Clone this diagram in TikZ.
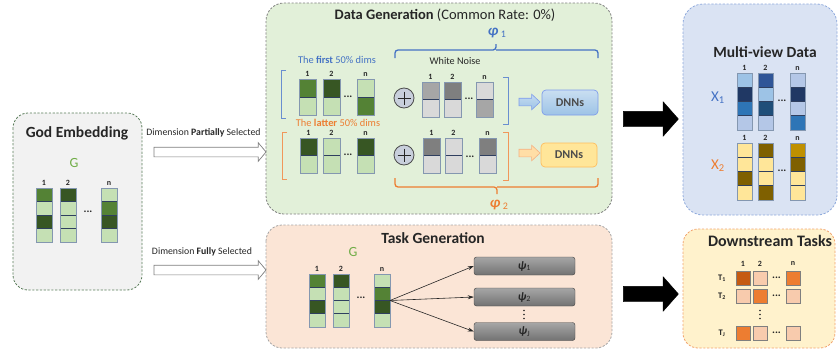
\documentclass[tikz,border=0pt]{standalone}
\usepackage{fontspec}
\setmainfont{Carlito}
\usetikzlibrary{shapes.arrows,arrows.meta,calc}
\definecolor{txt}{HTML}{262626}
\definecolor{gMed}{HTML}{548235}
\definecolor{gDark}{HTML}{375623}
\definecolor{gLight}{HTML}{C5E0B4}
\definecolor{grM}{HTML}{A6A6A6}
\definecolor{grD}{HTML}{7F7F7F}
\definecolor{grL}{HTML}{D9D9D9}
\definecolor{bL}{HTML}{9DC3E6}
\definecolor{bNavy}{HTML}{203864}
\definecolor{bMed}{HTML}{2E75B6}
\definecolor{bPale}{HTML}{B4C7E7}
\definecolor{bDk}{HTML}{2F5597}
\definecolor{bTeal}{HTML}{1F4E79}
\definecolor{yL}{HTML}{FFE699}
\definecolor{yDk}{HTML}{7F6000}
\definecolor{yGold}{HTML}{BF9000}
\definecolor{oDk}{HTML}{C55A11}
\definecolor{oMid}{HTML}{ED7D31}
\definecolor{oPeach}{HTML}{F8CBAD}
\definecolor{accBlue}{HTML}{4472C4}
\definecolor{accOr}{HTML}{ED7D31}
\definecolor{accGreen}{HTML}{70AD47}
\definecolor{cellLine}{HTML}{2F3F5F}
\definecolor{frameLine}{HTML}{8497B0}
\definecolor{godFill}{HTML}{F2F2F2}
\definecolor{dataFill}{HTML}{E2F0D9}
\definecolor{taskFill}{HTML}{FBE5D6}
\definecolor{multiFill}{HTML}{DAE3F3}
\definecolor{downFill}{HTML}{FFF2CC}
\tikzset{
  cell/.style={draw=cellLine, line width=0.6pt, inner sep=0pt, outer sep=0pt},
  frame/.style={draw=frameLine, line width=1pt},
  panel/.style={rounded corners=15pt, dash pattern=on 2.2pt off 1.6pt, line width=0.8pt},
  ptitle/.style={font=\fontsize{15.5}{17}\selectfont\bfseries, text=txt, inner sep=0pt},
  idx/.style={font=\fontsize{8}{9}\selectfont\bfseries, text=txt, inner sep=0pt},
  small/.style={font=\fontsize{9.8}{11}\selectfont, text=txt, inner sep=0pt},
  dotsh/.style={font=\fontsize{11}{11}\selectfont\bfseries, text=txt, inner sep=0pt},
  hollow/.style={single arrow, draw=grD, fill=white, line width=0.7pt,
    minimum height=112pt, minimum width=18pt, single arrow head extend=4.5pt,
    single arrow tip angle=100, inner xsep=0pt, inner ysep=4.5pt},
  bigarrow/.style={single arrow, fill=black, draw=black, minimum height=55pt,
    minimum width=34pt, single arrow head extend=9.5pt, single arrow tip angle=97,
    inner xsep=0pt, inner ysep=7.5pt},
  smallarrow/.style={single arrow, line width=0.6pt, minimum height=21pt,
    minimum width=15pt, single arrow head extend=4pt, single arrow tip angle=86,
    inner xsep=0pt, inner ysep=3.5pt},
  dnn/.style={rounded corners=4pt, minimum width=56pt, minimum height=25pt,
    font=\fontsize{12}{13}\selectfont\bfseries, text=black!70, line width=0.7pt},
  plus/.style={circle, draw=black!70, fill=multiFill!80!gray, minimum size=20pt, inner sep=0pt, line width=0.8pt},
  psib/.style={rounded corners=2.5pt, draw=black!75, top color=grM, bottom color=grD!90!black,
    minimum width=101pt, minimum height=18pt, inner sep=0pt,
    font=\fontsize{11.5}{12}\selectfont, text=black!85},
  sq/.style={draw=grD, line width=0.9pt, minimum size=14pt, inner sep=0pt},
  tlab/.style={font=\fontsize{8.5}{9}\selectfont\bfseries, text=txt, inner sep=0pt},
  tarrow/.style={-{Stealth[length=6pt,width=4pt]}, line width=0.6pt, draw=black!85},
  vdot/.style={circle, fill=txt, inner sep=0pt, minimum size=1.6pt},
}
\newcommand\vcol[7]{%
  \foreach \cc [count=\ii] in {#7}{%
    \node[cell, fill=\cc, minimum width=#4pt, minimum height=#5pt, anchor=north west]
      (#1-\ii) at (#2,{#3+(\ii-1)*#5}) {};
  }%
  \draw[frame] (#1-1.north west) rectangle (#1-#6.south east);
}
\newcommand\collab[2]{\node[idx, anchor=south] (#1-lab) at ([yshift=2.5pt]#1-1.north) {#2};}
\newcommand\vdotsat[3]{% name x y
  \node[vdot] (#1a) at (#2,{#3-4}) {};
  \node[vdot] (#1b) at (#2,#3) {};
  \node[vdot] (#1c) at (#2,{#3+4}) {};
}
\begin{document}
\begin{tikzpicture}[x=1pt,y=-1pt]
\useasboundingbox (0,0) rectangle (838,351);
% ---------- panels
\draw[panel, fill=godFill, draw=black!55!green!30!gray] (13,113) rectangle (142,290);
\draw[panel, fill=dataFill, draw=grD, rounded corners=18pt] (266,3) rectangle (612,214);
\draw[panel, fill=taskFill, draw=grM, rounded corners=16pt] (266,225) rectangle (612,348);
\draw[panel, fill=multiFill, draw=accBlue!60, rounded corners=20pt] (683,4) rectangle (837,215);
\draw[panel, fill=downFill, draw=accOr!70, rounded corners=15pt] (683,229) rectangle (835,348);

% ---------- God Embedding
\node[ptitle] (godt) at (77,133) {God Embedding};
\node[font=\fontsize{14}{15}\selectfont, text=accGreen, inner sep=0pt] (godG) at (74,163) {G};
\vcol{g1}{36}{188}{16}{13.5}{4}{gMed,gLight,gDark,gLight}
\vcol{g2}{60}{188}{16}{13.5}{4}{gDark,gLight,gLight,gLight}
\vcol{gn}{101}{188}{16}{13.5}{4}{gLight,gMed,gDark,gLight}
\collab{g1}{1}\collab{g2}{2}\collab{gn}{n}
\node[dotsh] (gdots) at (88,212) {...};

% ---------- hollow arrows
\node[small] (dps) at (203.5,133) {Dimension \textbf{Partially} Selected};
\node[hollow] (ha1) at (208,152) {};
\node[small] (dfs) at (202,252) {Dimension \textbf{Fully} Selected};
\node[hollow] (ha2) at (208,270) {};

% ---------- Data Generation
\node[ptitle, font=\fontsize{14.5}{16}\selectfont\bfseries] (datat) at (445,15) {Data Generation \mdseries(Common Rate: 0\%)};
\node[small, text=accBlue, font=\fontsize{10.4}{11}\selectfont] (first) at (337,60) {The \textbf{first} 50\% dims};
\node[small, text=accOr, font=\fontsize{10.4}{11}\selectfont] (latter) at (338,123) {The \textbf{latter} 50\% dims};
\node[small, font=\fontsize{10.2}{11}\selectfont] (wn) at (455,61) {White Noise};
% row 1
\vcol{a1}{299}{79}{17}{18}{2}{gMed,gLight}
\vcol{a2}{323}{79}{17}{18}{2}{gDark,gLight}
\vcol{an}{357}{79}{17}{18}{2}{gLight,gMed}
\collab{a1}{1}\collab{a2}{2}\collab{an}{n}
\node[dotsh] (adots) at (348,97) {...};
\node[plus] (p1) at (404,98) {};
\draw[line width=0.9pt, black!85] ($(p1.center)+(-6.5,0)$) -- ($(p1.center)+(6.5,0)$) ($(p1.center)+(0,-6.5)$) -- ($(p1.center)+(0,6.5)$);
\vcol{w1}{422}{82}{17}{17.5}{2}{grM,grL}
\vcol{w2}{444}{82}{17}{17.5}{2}{grD,grL}
\vcol{wn}{476}{82}{17}{17.5}{2}{grL,grM}
\collab{w1}{1}\collab{w2}{2}\collab{wn}{n}
\node[dotsh] (wdots) at (469,99) {...};
% row 2
\vcol{b1}{300}{138}{17}{17.5}{2}{gDark,gLight}
\vcol{b2}{323}{138}{17}{17.5}{2}{gLight,gLight}
\vcol{bn}{357}{138}{17}{17.5}{2}{gDark,gLight}
\collab{b1}{1}\collab{b2}{2}\collab{bn}{n}
\node[dotsh] (bdots) at (348,155) {...};
\node[plus] (p2) at (404,155) {};
\draw[line width=0.9pt, black!85] ($(p2.center)+(-6.5,0)$) -- ($(p2.center)+(6.5,0)$) ($(p2.center)+(0,-6.5)$) -- ($(p2.center)+(0,6.5)$);
\vcol{v1}{423}{138}{17}{17.5}{2}{grD,grL}
\vcol{v2}{445}{138}{17}{17.5}{2}{grL,grL}
\vcol{vn}{479}{138}{17}{17.5}{2}{grD,grL}
\collab{v1}{1}\collab{v2}{2}\collab{vn}{n}
\node[dotsh] (vdots) at (470,157) {...};
% brackets
\draw[accBlue!80, line width=0.8pt] (286,70) -- (281,70) -- (281,118) -- (286,118);
\draw[accBlue!80, line width=0.8pt] (503,77) -- (508,77) -- (508,124) -- (503,124);
\draw[accOr!80, line width=0.8pt] (287,132) -- (282,132) -- (282,179) -- (287,179);
\draw[accOr!80, line width=0.8pt] (503,132) -- (508,132) -- (508,180) -- (503,180);
% braces
\draw[accBlue, line width=1.3pt, rounded corners=3pt] (395,58) |- (496,50) -- (496,44);
\draw[accBlue, line width=1.3pt, rounded corners=3pt] (598,58) |- (496,50);
\draw[accOr, line width=1.3pt, rounded corners=3pt] (395,178) |- (497,187) -- (497,194);
\draw[accOr, line width=1.3pt, rounded corners=3pt] (598,178) |- (497,187);
\node[text=accBlue, inner sep=0pt] (phi1) at (497,33) {\fontsize{15}{15}\selectfont\bfseries\itshape φ\,\raisebox{-2pt}{\normalfont\fontsize{10}{10}\selectfont 1}};
\node[text=accOr, inner sep=0pt] (phi2) at (499,205) {\fontsize{15}{15}\selectfont\bfseries\itshape φ\,\raisebox{-2pt}{\normalfont\fontsize{10}{10}\selectfont 2}};
% small arrows and DNNs
\node[smallarrow, top color=bL!60, bottom color=bL, draw=bL!80!blue] (sa1) at (527.5,102) {};
\node[smallarrow, fill=yL!70!orange!60, draw=accOr!60] (sa2) at (527.5,153) {};
\node[dnn, top color=bL!55, bottom color=bL, draw=bL!80!blue] (dnn1) at (570,102.5) {DNNs};
\node[dnn, fill=yL, draw=yL!60!orange, minimum height=24pt] (dnn2) at (569,155) {DNNs};

% ---------- Task Generation
\node[ptitle] (taskt) at (433,238) {Task Generation};
\node[font=\fontsize{14}{15}\selectfont, text=accGreen, inner sep=0pt] (taskG) at (353,252) {G};
\vcol{t1}{309}{274}{16}{13.25}{4}{gMed,gLight,gDark,gLight}
\vcol{t2}{333}{274}{16}{13.25}{4}{gDark,gLight,gLight,gLight}
\vcol{tn}{374}{274}{16}{13.25}{4}{gLight,gMed,gDark,gLight}
\collab{t1}{1}\collab{t2}{2}\collab{tn}{n}
\node[dotsh] (tdots) at (361,298) {...};
\node[psib] (psi1) at (524.5,266) {{\bfseries\itshape ψ}\textsubscript{1}};
\node[psib] (psi2) at (524.5,297) {{\bfseries\itshape ψ}\textsubscript{2}};
\node[psib] (psiJ) at (524.5,331.5) {{\bfseries\itshape ψ}\textsubscript{J}};
\vdotsat{pd}{524}{314.5}
\draw[tarrow] (tn-2.south east) -- (psi1.west);
\draw[tarrow] (tn-2.south east) -- (psi2.west);
\draw[tarrow] (tn-2.south east) -- (psiJ.west);

% ---------- big arrows
\node[bigarrow] (big1) at (647.5,119) {};
\node[bigarrow] (big2) at (647.5,294) {};

% ---------- Multi-view Data
\node[ptitle] (multit) at (765,52) {Multi-view Data};
\node[text=accBlue, font=\fontsize{15}{15}\selectfont, inner sep=0pt] (x1) at (718,98) {X\textsubscript{1}};
\node[text=accOr, font=\fontsize{15}{15}\selectfont, inner sep=0pt] (x2) at (718,166) {X\textsubscript{2}};
\vcol{m1}{737}{73}{15}{14.25}{4}{bL,bNavy,bMed,bPale}
\vcol{m2}{758}{73}{15}{14.25}{4}{bDk,bL,bTeal,bPale}
\vcol{mn}{790}{73}{15}{14.25}{4}{bPale,bNavy,bPale,bMed}
\collab{m1}{1}\collab{m2}{2}\collab{mn}{n}
\node[dotsh] (mdots) at (782,101) {...};
\vcol{k1}{737}{143}{15}{14.25}{4}{yL,yL,yDk,yL}
\vcol{k2}{758}{143}{15}{14.25}{4}{yDk,yL,yL,yDk}
\vcol{kn}{790}{143}{15}{14.25}{4}{yGold,yDk,yL,yL}
\collab{k1}{1}\collab{k2}{2}\collab{kn}{n}
\node[dotsh] (kdots) at (782,171) {...};

% ---------- Downstream Tasks
\node[ptitle, font=\fontsize{16}{17}\selectfont\bfseries] (downt) at (770,241) {Downstream Tasks};
\node[idx] (dc1) at (743,264) {1};
\node[idx] (dc2) at (760,264) {2};
\node[idx] (dcn) at (793,264) {n};
\node[tlab] (T1) at (722,278) {T\textsubscript{1}};
\node[tlab] (T2) at (722,296) {T\textsubscript{2}};
\node[tlab] (TJ) at (722,333) {T\textsubscript{J}};
\node[sq, fill=oDk] (s11) at (743,278) {};
\node[sq, fill=oPeach] (s12) at (760,278) {};
\node[sq, fill=oMid] (s1n) at (793,278) {};
\node[sq, fill=oPeach] (s21) at (743,296) {};
\node[sq, fill=oMid] (s22) at (760,296) {};
\node[sq, fill=oPeach] (s2n) at (793,296) {};
\node[sq, fill=oMid] (sJ1) at (743,333) {};
\node[sq, fill=oPeach] (sJ2) at (760,333) {};
\node[sq, fill=oPeach] (sJn) at (793,333) {};
\node[dotsh] (dd1) at (776.5,278) {...};
\node[dotsh] (dd2) at (776.5,296) {...};
\node[dotsh] (dd3) at (776.5,333) {...};
\vdotsat{dv}{760}{314.5}
\end{tikzpicture}
\end{document}
